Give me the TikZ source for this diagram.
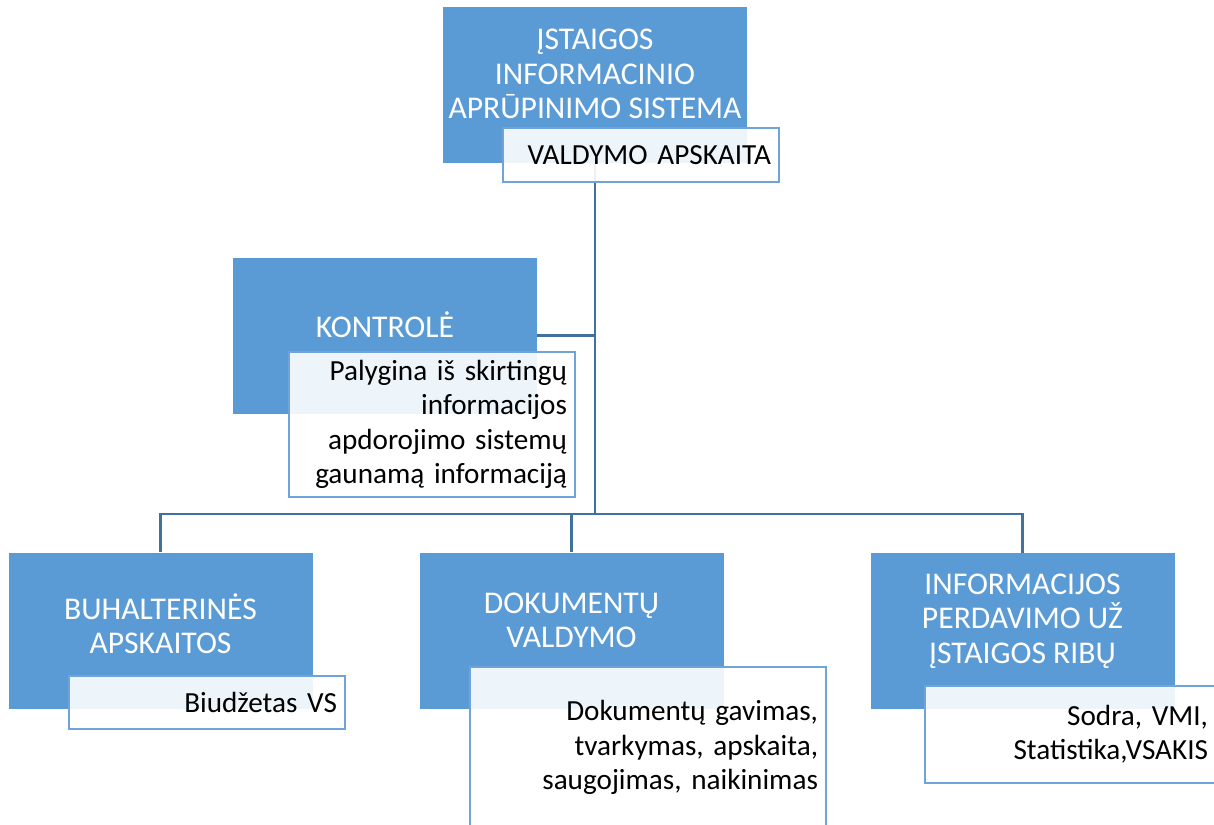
\documentclass[tikz,border=0pt]{standalone}
\usepackage{fontspec}
\setmainfont{Carlito}
\usepackage{tikz}
\usetikzlibrary{shapes,arrows}
\definecolor{blokmel}{HTML}{5B9BD5}
\definecolor{remas}{HTML}{6FA3DA}
\definecolor{linmel}{HTML}{41719C}
\tikzset{
	blok/.style     = {fill = blokmel, draw = none, rectangle, minimum width = 6.08cm,
		minimum height = 3.12cm},
	antraste/.style = {text = white, align = center, font = \fontsize{18pt}{19.5pt}\selectfont},
	aprasas/.style  = {draw = remas, line width = 0.8pt, fill = white, fill opacity = 0.9,
		text opacity = 1, rectangle, align = right, inner xsep = 0.16cm,
		font = \fontsize{16.6pt}{19.5pt}\selectfont}, % text box
	linija/.style   = {draw = linmel, line width = 1.4pt} % connector
}

\begin{document}
\begin{tikzpicture}
	\clip (0,0) rectangle (24.28,-16.48);
	\coordinate (bus) at (0,-10.28);
	\draw
	
	node at (11.9,-1.7) [blok] (sis) {}
	node at (7.7,-6.71) [blok] (kon) {}
	node at (3.21,-12.61) [blok] (buh) {}
	node at (11.43,-12.61) [blok] (dok) {}
	node at (20.45,-12.62) [blok] (inf) {};
	
	\draw
	node at (11.9,-1.48) [antraste] (sist) {ĮSTAIGOS\\INFORMACINIO\\APRŪPINIMO SISTEMA}
	node at (7.7,-6.5) [antraste] (kont) {KONTROLĖ}
	node at (3.21,-12.48) [antraste] (buht) {BUHALTERINĖS\\APSKAITOS}
	node at (11.43,-12.4) [antraste] (dokt) {DOKUMENTŲ\\VALDYMO}
	node at (20.45,-12.42) [antraste] (inft) {INFORMACIJOS\\PERDAVIMO UŽ\\ĮSTAIGOS RIBŲ};
	
	\draw[linija](sis.south)--(sis.south |- bus);
	\draw[linija](kon.east)--(kon.east -| sis.south);
	\draw[linija](buh.north)--(buh.north |- bus)--(inf.north |- bus)--(inf.north);
	\draw[linija](dok.north)--(dok.north |- bus);
	
	\draw
	node at (12.82,-3.1) [aprasas,text width=5.2cm,minimum height=1.08cm] (sisa) {VALDYMO APSKAITA}
	node at (8.64,-8.49) [aprasas,text width=5.4cm,minimum height=2.9cm] (kona) {Palygina iš skirtingų\\informacijos\\apdorojimo sistemų\\gaunamą informaciją}
	node at (4.14,-14.05) [aprasas,text width=5.2cm,minimum height=1.06cm] (buha) {Biudžetas VS}
	node at (12.96,-14.95) [aprasas,text width=6.8cm,minimum height=3.22cm] (doka) {Dokumentų gavimas,\\tvarkymas, apskaita,\\saugojimas, naikinimas}
	node at (21.41,-14.69) [aprasas,text width=5.5cm,minimum height=1.94cm] (infa) {Sodra, VMI,\\Statistika,VSAKIS};
\end{tikzpicture}
\end{document}
